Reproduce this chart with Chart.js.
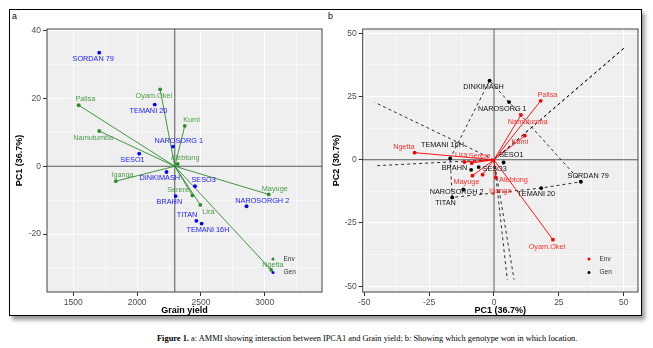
<!DOCTYPE html>
<html>
<head>
<meta charset="utf-8">
<script src="https://cdn.jsdelivr.net/npm/chart.js@4/dist/chart.umd.min.js"></script>
<style>
  body { margin: 0; width: 653px; height: 348px; background: #fff; position: relative; overflow: hidden;
         font-family: "Liberation Sans", Arial, sans-serif; }
  #frame { position: absolute; left: 9px; top: 9px; width: 633px; height: 307px; box-sizing: border-box;
           border: 1.5px solid #000; box-shadow: 3px 4px 4px rgba(0,0,0,0.4); }
  .box { position: absolute; top: 10px; width: 316px; height: 306px; }
  #boxA { left: 10px; }
  #boxB { left: 326px; }
  .tag { position: absolute; top: 11px; font-size: 9px; color: #000; }
  #caption { position: absolute; left: 157px; top: 334px; font: 8.4px "Liberation Serif", "Times New Roman", serif; color: #000; white-space: nowrap; }
</style>
</head>
<body>
<div id="frame"></div>
<div class="box" id="boxA"><canvas id="chartA"></canvas></div>
<div class="box" id="boxB"><canvas id="chartB"></canvas></div>
<div class="tag" style="left:12px">a</div>
<div class="tag" style="left:328px">b</div>
<div id="caption"><b>Figure 1.</b> a: AMMI showing interaction between IPCA1 and Grain yield; b: Showing which genotype won in which location.</div>
<script>
// genotypes
const genotypes = ['SORDAN 79', 'TEMANI 20', 'NAROSORG 1', 'SESO1', 'DINKIMASH', 'SESO3', 'BRAHN', 'NAROSORGH 2', 'TITAN', 'TEMANI 16H'];
const genYield = [1703, 2138, 2281, 2016, 2230, 2453, 2302, 2857, 2464, 2505];
const genPC1 = [33.5, 18.2, 5.8, 3.7, -1.7, -5.9, -8.8, -11.8, -16.1, -16.9];
const genPC2 = [-8.7, -11.2, 22.8, -1.1, 31.3, -2.9, -4.0, -11.7, -14.9, 0.5];

// environments (locations)
const envs = ['Palisa', 'Oyam.Okel', 'Kumi', 'Namutumba', 'Alebtong', 'Iganga', 'Mayuge', 'Serere', 'Lira', 'Ngetta'];
const envYield = [1542, 2180, 2373, 1703, 2318, 1833, 3031, 2433, 2495, 3050];
const envPC1 = [18.0, 22.7, 11.9, 10.4, 0.7, -4.4, -8.3, -8.6, -11.4, -30.6];
const envPC2 = [23.3, -31.6, 9.5, 17.7, -7.0, -5.9, -6.3, -1.3, -0.9, 2.8];

// axis ticks
const yieldTicks = [1500, 2000, 2500, 3000];
const pc1TicksA = [-20, 0, 20, 40];
const pcTicksB = [-50, -25, 0, 25, 50];

const grandMean = genYield.reduce((a, b) => a + b, 0) / genYield.length;

// label nudges in px, per panel
const nudgeA = {
  'SORDAN 79': [-6, 6.7], 'TEMANI 20': [-6.3, 6], 'NAROSORG 1': [5.7, -6], 'SESO1': [-6.7, 6],
  'DINKIMASH': [-6.7, 6], 'SESO3': [8.7, -6.7], 'BRAHN': [-6.3, 6.3], 'NAROSORGH 2': [15.7, -5.3],
  'TITAN': [-9.3, -6], 'TEMANI 16H': [6.3, 6.7],
  'Palisa': [6.7, -6], 'Oyam.Okel': [-6.3, 7], 'Kumi': [6.7, -6], 'Namutumba': [-6, 6.7],
  'Alebtong': [7.3, -5.7], 'Iganga': [6.7, -6], 'Mayuge': [6, -5], 'Serere': [-14.3, -5],
  'Lira': [8, 6.7], 'Ngetta': [1.7, -5.3]
};
const nudgeB = {
  'SORDAN 79': [7.3, -5.7], 'TEMANI 20': [-5, 6], 'NAROSORG 1': [-6.7, 6.7], 'SESO1': [7.7, -7.3],
  'DINKIMASH': [-6, 6.7], 'SESO3': [16, 2], 'BRAHN': [-16.7, -2.3], 'NAROSORGH 2': [-6.7, 3],
  'TITAN': [-6.7, 5.7], 'TEMANI 16H': [-7.7, -13.3],
  'Palisa': [6.7, -6], 'Oyam.Okel': [-6, 7], 'Kumi': [-5, 6.7], 'Namutumba': [6.7, 6.7],
  'Alebtong': [17.7, 2.7], 'Iganga': [17.7, 16.3], 'Mayuge': [-6, 6.7], 'Serere': [8, -7.3],
  'Lira': [-3.3, -6.7], 'Ngetta': [-10.7, -6]
};

// extent of the sector rays in panel b
const rayBox = { xmin: -46, xmax: 50.4, ymin: -47.4, ymax: 44.2 };

const FONT = '"Liberation Sans", Arial, sans-serif';
Chart.defaults.font.family = FONT;
Chart.defaults.animation = false;

function withMinor(major, lo, hi) {
  const step = major[1] - major[0];
  const minor = [major[0] - step / 2].concat(major.map(v => v + step / 2)).filter(v => v > lo && v < hi);
  return major.map(v => ({ value: v }))
    .concat(minor.map(v => ({ value: v, minor: true })))
    .sort((a, b) => a.value - b.value);
}

function axis(title, major, lo, hi, width, pad) {
  return {
    type: 'linear', min: lo, max: hi,
    afterBuildTicks: s => { s.ticks = withMinor(major, lo, hi); },
    afterFit: s => { if (s.isHorizontal()) s.height = 24; else s.width = width; },
    ticks: {
      autoSkip: false, maxRotation: 0, padding: 2, color: '#4d4d4d', font: { size: 8.5 },
      callback: (v, i, ticks) => ticks[i].minor ? '' : String(v)
    },
    grid: {
      color: '#ffffff', tickLength: 4, tickWidth: 1,
      lineWidth: c => (c.tick && c.tick.minor) ? 0.5 : 1,
      tickColor: c => (c.tick && c.tick.minor) ? 'rgba(0,0,0,0)' : '#333'
    },
    border: { display: false },
    title: { display: true, text: title, color: '#000', font: { size: 9, weight: 'bold', lineHeight: 1 }, padding: { top: pad, bottom: 1 } }
  };
}

// panel background, centre lines and border
const panel = {
  id: 'panel',
  beforeDraw(chart) {
    const { ctx, chartArea: a } = chart;
    ctx.save();
    ctx.fillStyle = '#efefef';
    ctx.fillRect(a.left, a.top, a.right - a.left, a.bottom - a.top);
    ctx.restore();
  },
  beforeDatasetsDraw(chart, args, opts) {
    const { ctx, chartArea: a, scales } = chart;
    const x = scales.x.getPixelForValue(opts.x0);
    const y = scales.y.getPixelForValue(0);
    ctx.save();
    ctx.strokeStyle = '#444';
    ctx.lineWidth = 0.9;
    ctx.beginPath();
    ctx.moveTo(x, a.top); ctx.lineTo(x, a.bottom);
    ctx.moveTo(a.left, y); ctx.lineTo(a.right, y);
    ctx.stroke();
    ctx.restore();
  },
  afterDraw(chart, args, opts) {
    const { ctx, chartArea: a } = chart;
    ctx.save();
    ctx.strokeStyle = '#444';
    ctx.lineWidth = 1;
    ctx.strokeRect(a.left, a.top, a.right - a.left, a.bottom - a.top);
    // small key in the bottom right corner
    ctx.font = '6.5px ' + FONT;
    ctx.textBaseline = 'middle';
    opts.key.forEach((k, i) => {
      const px = a.right - 49, py = a.bottom - 33 + i * 13.4;
      ctx.fillStyle = k.color;
      ctx.beginPath(); ctx.arc(px, py, 1.5, 0, Math.PI * 2); ctx.fill();
      ctx.fillStyle = '#333';
      ctx.fillText(k.text, px + 10.5, py);
    });
    ctx.restore();
  }
};

const pointLabels = {
  id: 'pointLabels',
  afterDatasetsDraw(chart) {
    const ctx = chart.ctx;
    chart.data.datasets.forEach((ds, i) => {
      if (!ds.names) return;
      const meta = chart.getDatasetMeta(i);
      ctx.save();
      ctx.font = '7.3px ' + FONT;
      ctx.fillStyle = ds.labelColor;
      ctx.textAlign = 'center';
      ctx.textBaseline = 'middle';
      meta.data.forEach((pt, j) => {
        const off = ds.nudge[ds.names[j]] || [0, 0];
        ctx.fillText(ds.names[j], pt.x + off[0], pt.y + off[1]);
      });
      ctx.restore();
    });
  }
};

function points(xs, ys) { return xs.map((x, i) => ({ x: x, y: ys[i] })); }

function segment(x0, y0, x1, y1, color, width, dash) {
  return {
    data: [{ x: x0, y: y0 }, { x: x1, y: y1 }], showLine: true, pointRadius: 0,
    borderColor: color, borderWidth: width, borderDash: dash || [], order: 3
  };
}

function baseOptions(x, y, x0, key) {
  return {
    responsive: true, maintainAspectRatio: false,
    layout: { padding: { top: 19, right: 3, left: 0, bottom: 0 } },
    scales: { x: x, y: y },
    plugins: { legend: { display: false }, tooltip: { enabled: false }, panel: { x0: x0, key: key } }
  };
}

// a: grain yield vs PC1
const green = '#2e8b2e';
const dsA = envs.map((e, i) => segment(grandMean, 0, envYield[i], envPC1[i], green, 0.9));
dsA.push({
  data: points(genYield, genPC1), pointRadius: 1.9, pointBackgroundColor: '#0000ff', pointBorderWidth: 0,
  names: genotypes, nudge: nudgeA, labelColor: '#1a1aff', order: 1
});
dsA.push({
  data: points(envYield, envPC1), pointRadius: 1.9, pointBackgroundColor: green, pointBorderWidth: 0,
  names: envs, nudge: nudgeA, labelColor: '#4a9e4a', order: 0
});

new Chart(document.getElementById('chartA'), {
  type: 'scatter',
  data: { datasets: dsA },
  options: baseOptions(
    axis('Grain yield', yieldTicks, 1294, 3448, 37, 0),
    axis('PC1 (36.7%)', pc1TicksA, -37.1, 40.5, 37, 5.3),
    grandMean,
    [{ text: 'Env', color: green }, { text: 'Gen', color: '#0000ff' }]
  ),
  plugins: [panel, pointLabels]
});

// b: which genotype won where
function convexHull(pts) {
  const p = pts.slice().sort((a, b) => a.x - b.x || a.y - b.y);
  const cross = (o, a, b) => (a.x - o.x) * (b.y - o.y) - (a.y - o.y) * (b.x - o.x);
  const lower = [], upper = [];
  for (const q of p) {
    while (lower.length >= 2 && cross(lower[lower.length - 2], lower[lower.length - 1], q) <= 0) lower.pop();
    lower.push(q);
  }
  for (const q of p.slice().reverse()) {
    while (upper.length >= 2 && cross(upper[upper.length - 2], upper[upper.length - 1], q) <= 0) upper.pop();
    upper.push(q);
  }
  return lower.slice(0, -1).concat(upper.slice(0, -1));
}

const genPts = points(genPC1, genPC2);
const hull = convexHull(genPts);
const dsB = [];
dsB.push({
  data: hull.concat([hull[0]]), showLine: true, pointRadius: 0, borderColor: '#000',
  borderWidth: 0.8, borderDash: [3, 3], order: 4
});
// rays from the origin, perpendicular to each side of the polygon
hull.forEach((a, i) => {
  const b = hull[(i + 1) % hull.length];
  let nx = b.y - a.y, ny = a.x - b.x;
  if (nx * a.x + ny * a.y < 0) { nx = -nx; ny = -ny; }
  const tx = nx > 0 ? rayBox.xmax / nx : rayBox.xmin / nx;
  const ty = ny > 0 ? rayBox.ymax / ny : rayBox.ymin / ny;
  const t = Math.min(tx, ty);
  dsB.push(segment(0, 0, nx * t, ny * t, '#000', 0.8, [3, 3]));
  dsB[dsB.length - 1].order = 4;
});
envs.forEach((e, i) => dsB.push(segment(0, 0, envPC1[i], envPC2[i], '#ff0000', 0.9)));
dsB.push({
  data: genPts, pointRadius: 1.9, pointBackgroundColor: '#000', pointBorderWidth: 0,
  names: genotypes, nudge: nudgeB, labelColor: '#111', order: 1
});
dsB.push({
  data: points(envPC1, envPC2), pointRadius: 1.9, pointBackgroundColor: '#ff0000', pointBorderWidth: 0,
  names: envs, nudge: nudgeB, labelColor: '#ff3030', order: 0
});

const optsB = baseOptions(
  axis('PC1 (36.7%)', pcTicksB, -50.6, 55.5, 36.7, 0),
  axis('PC2 (30.7%)', pcTicksB, -52.3, 51.7, 36.7, 6.3),
  0,
  [{ text: 'Env', color: '#ff0000' }, { text: 'Gen', color: '#000' }]
);
optsB.layout.padding.right = 2;

new Chart(document.getElementById('chartB'), {
  type: 'scatter',
  data: { datasets: dsB },
  options: optsB,
  plugins: [panel, pointLabels]
});
</script>
</body>
</html>
